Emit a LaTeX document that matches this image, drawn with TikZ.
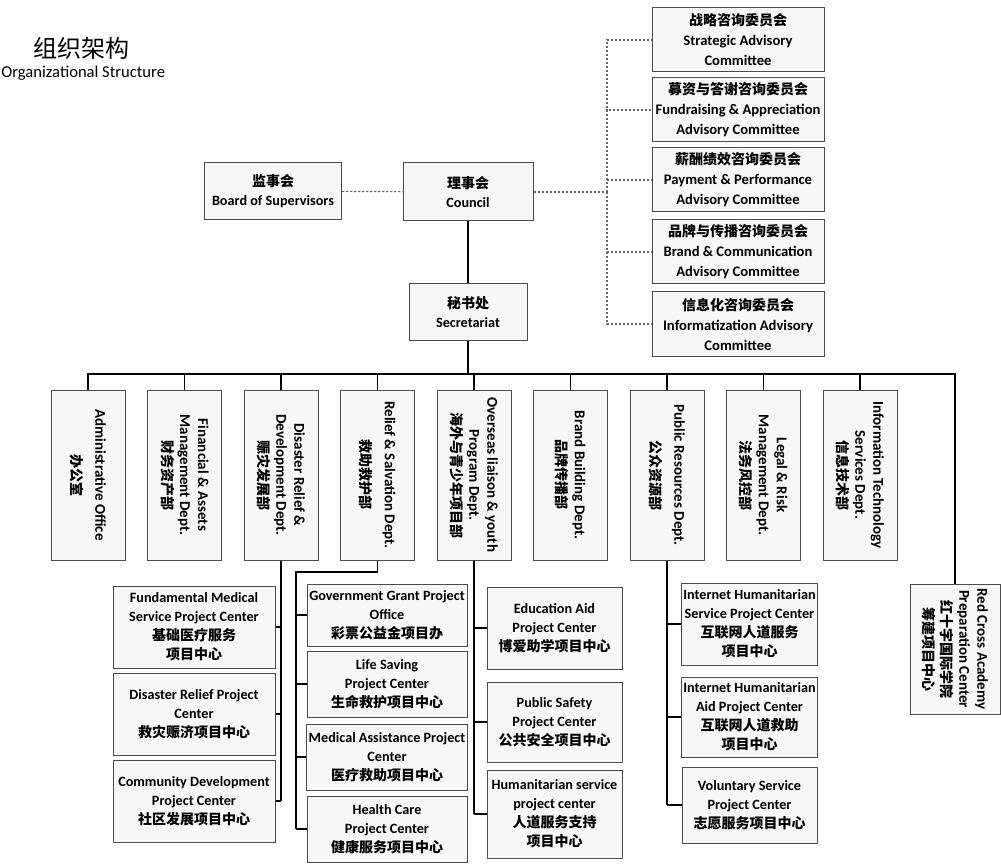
\documentclass[tikz,border=0pt]{standalone}
\usepackage{fontspec}
\setmainfont{Carlito}
\newfontfamily\cjk{Noto Sans CJK SC}
\newcommand{\zh}[1]{{\cjk\fontsize{7}{9}\selectfont #1}}

\tikzset{
  orgbox/.style={draw=black!70, line width=0.5pt, fill=black!3, align=center, inner sep=1pt,
    font=\bfseries\fontsize{7.1}{9.5}\selectfont},
  cmtbox/.style={orgbox, minimum width=86pt, minimum height=32pt, font=\bfseries\fontsize{7.3}{10}\selectfont},
  deptbox/.style={orgbox, rotate=-90, minimum width=85pt, minimum height=37pt, font=\bfseries\fontsize{7.5}{9}\selectfont},
  projbox/.style={orgbox, minimum height=41pt},
  link/.style={line width=0.9pt},
  linkdash/.style={black!60, line width=0.6pt, dash pattern=on 1.2pt off 0.8pt},
}

\begin{document}
\begin{tikzpicture}[x=0.5pt, y=-0.5pt]
        \useasboundingbox (0,0) rectangle (1001,866);

        % header
        \node (title) [anchor=west, inner sep=0pt, font=\cjk\fontsize{12}{14}\selectfont] at (33,48) {组织架构};
        \node (subtitle) [anchor=west, inner sep=0pt, font=\fontsize{8.3}{9}\selectfont] at (1,73) {Organizational Structure};

        % top nodes
        \node (board) [orgbox, minimum width=68.5pt, minimum height=28.5pt] at (273,191) {\zh{监事会}\\Board of Supervisors};
        \node (council) [orgbox, minimum width=65pt, minimum height=29pt] at (468,192) {\zh{理事会}\\Council};
        \node (secr) [orgbox, minimum width=59pt, minimum height=28.5pt] at (468,312) {\zh{秘书处}\\Secretariat};

        % committees
        \node (strat) [cmtbox] at (738,40) {\zh{战略咨询委员会}\\Strategic Advisory\\Committee};
        \node (fund) [cmtbox] at (738,110) {\zh{募资与答谢咨询委员会}\\Fundraising \& Appreciation\\Advisory Committee};
        \node (pay) [cmtbox] at (738,180) {\zh{薪酬绩效咨询委员会}\\Payment \& Performance\\Advisory Committee};
        \node (brandc) [cmtbox] at (738,252) {\zh{品牌与传播咨询委员会}\\Brand \& Communication\\Advisory Committee};
        \node (infoc) [cmtbox] at (738,324) {\zh{信息化咨询委员会}\\Informatization Advisory\\Committee};

        % departments
        \node (admin) [deptbox] at (88,475) {Administrative Office\\[3pt]\zh{办公室}};
        \node (fin) [deptbox] at (184.5,475) {Financial \& Assets\\Management Dept.\\\zh{财务资产部}};
        \node (disas) [deptbox] at (281,475) {Disaster Relief \&\\Development Dept.\\\zh{赈灾发展部}};
        \node (relief) [deptbox] at (377.5,475) {Relief \& Salvation Dept.\\[3pt]\zh{救助救护部}};
        \node (overs) [deptbox] at (474,475) {Overseas liaison \& youth\\Program Dept.\\\zh{海外与青少年项目部}};
        \node (brand) [deptbox] at (570.5,475) {Brand Building Dept.\\\zh{品牌传播部}};
        \node (public) [deptbox] at (667,475) {Public Resources Dept.\\[3pt]\zh{公众资源部}};
        \node (legal) [deptbox] at (763.5,475) {Legal \& Risk\\Management Dept.\\\zh{法务风控部}};
        \node (itech) [deptbox] at (860,475) {Information Technology\\Services Dept.\\\zh{信息技术部}};
        \node (rca) [deptbox, minimum width=65pt, minimum height=45pt] at (955,649) {Red Cross Academy\\Preparation Center\\\zh{红十字国际学院}\\\zh{筹建项目中心}};

        % project centers
        \node (fmed) [projbox, minimum width=81pt] at (194,627) {Fundamental Medical\\Service Project Center\\\zh{基础医疗服务}\\\zh{项目中心}};
        \node (drel) [projbox, minimum width=81pt] at (194,714) {Disaster Relief Project\\Center\\\zh{救灾赈济项目中心}};
        \node (cdev) [projbox, minimum width=81pt] at (194,801) {Community Development\\Project Center\\\zh{社区发展项目中心}};

        \node (gov) [projbox, minimum width=80pt, minimum height=31pt] at (387,615) {Government Grant Project\\Office\\\zh{彩票公益金项目办}};
        \node (life) [projbox, minimum width=80pt, minimum height=33pt] at (387,684) {Life Saving\\Project Center\\\zh{生命救护项目中心}};
        \node (med) [projbox, minimum width=80pt, minimum height=33pt] at (387,757) {Medical Assistance Project\\Center\\\zh{医疗救助项目中心}};
        \node (health) [projbox, minimum width=80pt, minimum height=33pt] at (387,829) {Health Care\\Project Center\\\zh{健康服务项目中心}};

        \node (edu) [projbox, minimum width=67.5pt] at (554.5,628) {Education Aid\\Project Center\\\zh{博爱助学项目中心}};
        \node (safe) [projbox, minimum width=67.5pt, minimum height=40pt] at (554.5,722) {Public Safety\\Project Center\\\zh{公共安全项目中心}};
        \node (hum) [projbox, minimum width=67.5pt, minimum height=44pt] at (554.5,814) {Humanitarian service\\project center\\\zh{人道服务支持}\\\zh{项目中心}};

        \node (ihs) [projbox, minimum width=67.5pt] at (749.5,624) {Internet Humanitarian\\Service Project Center\\\zh{互联网人道服务}\\\zh{项目中心}};
        \node (iha) [projbox, minimum width=67.5pt, minimum height=40pt] at (749.5,717) {Internet Humanitarian\\Aid Project Center\\\zh{互联网人道救助}\\\zh{项目中心}};
        \node (vol) [projbox, minimum width=67.5pt, minimum height=38pt] at (749.5,805) {Voluntary Service\\Project Center\\\zh{志愿服务项目中心}};

        % edges, top
        \draw[linkdash] (board) -- (council);
        \coordinate (cbus) at (607,192);
        \draw[linkdash] (council) -- (cbus);
        \draw[linkdash] (cbus) |- (strat);
        \draw[linkdash] (cbus) |- (fund);
        \draw[linkdash] (cbus) |- (pay);
        \draw[linkdash] (cbus) |- (brandc);
        \draw[linkdash] (cbus) |- (infoc);
        \draw[link] (council) -- (secr);

        % edges, departments
        \coordinate (bus) at (468,374);
        \draw[link] (secr) -- (bus);
        \draw[link] (bus) -| (admin);
        \draw[link] (bus) -| (fin);
        \draw[link] (bus) -| (disas);
        \draw[link] (bus) -| (relief);
        \draw[link] (bus) -| (overs);
        \draw[link] (bus) -| (brand);
        \draw[link] (bus) -| (public);
        \draw[link] (bus) -| (legal);
        \draw[link] (bus) -| (itech);
        \draw[link] (bus) -| (rca);

        % edges, project centers
        \coordinate (dbot) at (281,801);
        \draw[link] (disas) -- (dbot);
        \draw[link] (dbot |- fmed) -- (fmed);
        \draw[link] (dbot |- drel) -- (drel);
        \draw[link] (dbot) -- (cdev);

        \coordinate (rtop) at (296,572);
        \coordinate (rbot) at (296,829);
        \draw[link] (relief) |- (rtop) -- (rbot);
        \draw[link] (rbot |- gov) -- (gov);
        \draw[link] (rbot |- life) -- (life);
        \draw[link] (rbot |- med) -- (med);
        \draw[link] (rbot) -- (health);

        \coordinate (obot) at (474,814);
        \draw[link] (overs) -- (obot);
        \draw[link] (obot |- edu) -- (edu);
        \draw[link] (obot |- safe) -- (safe);
        \draw[link] (obot) -- (hum);

        \coordinate (pbot) at (667,805);
        \draw[link] (public) -- (pbot);
        \draw[link] (pbot |- ihs) -- (ihs);
        \draw[link] (pbot |- iha) -- (iha);
        \draw[link] (pbot) -- (vol);
    \end{tikzpicture}
\end{document}
